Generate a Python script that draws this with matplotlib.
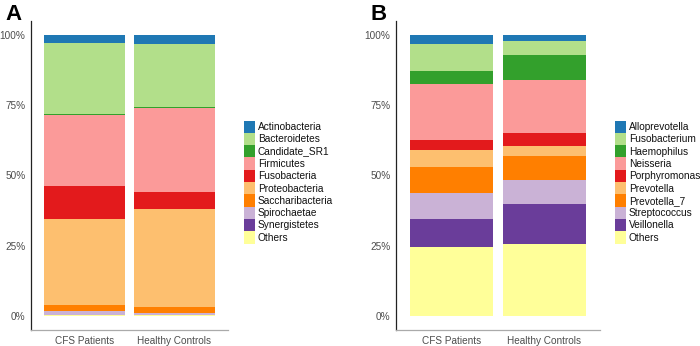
import matplotlib
matplotlib.use("Agg")
import matplotlib.pyplot as plt
from matplotlib.patches import Patch
import numpy as np

plt.rcParams['font.family'] = ['Liberation Sans', 'DejaVu Sans']

groups = ["CFS Patients", "Healthy Controls"]

# Panel A: phyla (percent), legend order top -> bottom of stack
phyla = ["Actinobacteria", "Bacteroidetes", "Candidate_SR1", "Firmicutes",
         "Fusobacteria", "Proteobacteria", "Saccharibacteria", "Spirochaetae",
         "Synergistetes", "Others"]
phyla_cfs = [3.0, 25.3, 0.3, 25.2, 11.6, 30.7, 2.2, 1.2, 0.1, 0.4]
phyla_hc = [3.2, 22.5, 0.3, 29.9, 6.2, 34.8, 1.9, 0.8, 0.1, 0.3]

# Panel B: genera (percent)
genera = ["Alloprevotella", "Fusobacterium", "Haemophilus", "Neisseria",
          "Porphyromonas", "Prevotella", "Prevotella_7", "Streptococcus",
          "Veillonella", "Others"]
genera_cfs = [3.3, 9.5, 4.7, 19.9, 3.5, 6.3, 9.1, 9.3, 10.0, 24.4]
genera_hc = [2.4, 5.0, 8.9, 18.7, 4.7, 3.6, 8.3, 8.7, 14.1, 25.6]

colors = ["#1F78B4", "#B2DF8A", "#33A02C", "#FB9A99", "#E31A1C",
          "#FDBF6F", "#FF7F00", "#CAB2D6", "#6A3D9A", "#FFFF99"]

W, H = 700, 346
fig = plt.figure(figsize=(W / 100, H / 100), dpi=100)

def px_ax(left, right, top, bottom):
    return fig.add_axes([left / W, 1 - bottom / H, (right - left) / W, (bottom - top) / H])

def draw(ax, names, vals_a, vals_b, legend_x, label, label_x):
    data = np.array([vals_a, vals_b], dtype=float)
    data = data / data.sum(axis=1, keepdims=True)
    x = np.arange(len(groups))
    bottom = np.zeros(len(groups))
    # stack from bottom: last name first
    for i in range(len(names) - 1, -1, -1):
        ax.bar(x, data[:, i], bottom=bottom, width=0.9, color=colors[i],
               edgecolor='none', linewidth=0)
        bottom += data[:, i]
    ax.set_xlim(-0.6, 1.6)
    ax.set_ylim(-0.05, 1.05)
    ax.set_yticks([0, 0.25, 0.5, 0.75, 1.0])
    ax.set_yticklabels(["0%", "25%", "50%", "75%", "100%"])
    ax.set_xticks(x)
    ax.set_xticklabels(groups)
    ax.tick_params(axis='both', length=0, labelsize=7.2, labelcolor='#4D4D4D')
    ax.tick_params(axis='y', pad=4)
    ax.tick_params(axis='x', pad=4.5)
    for s in ['top', 'right']:
        ax.spines[s].set_visible(False)
    ax.spines['left'].set_color('#222222')
    ax.spines['left'].set_linewidth(0.9)
    ax.spines['bottom'].set_color('#AAAAAA')
    ax.spines['bottom'].set_linewidth(0.9)
    handles = [Patch(facecolor=colors[i], edgecolor='none', label=names[i])
               for i in range(len(names))]
    fig.legend(handles=handles, loc='upper left',
               bbox_to_anchor=(legend_x / W, 1 - 120.5 / H),
               bbox_transform=fig.transFigure, frameon=False,
               fontsize=7.3, handlelength=1.1, handleheight=1.49,
               labelspacing=0.0, handletextpad=0.25, borderpad=0,
               borderaxespad=0, labelcolor='#111111')
    fig.text(label_x / W, 1 - 14 / H, label, fontsize=16, fontweight='bold',
             ha='left', va='center', color='black')

axA = px_ax(31, 228, 20.5, 330)
draw(axA, phyla, phyla_cfs, phyla_hc, 244, "A", 5)

axB = px_ax(396, 600, 20.5, 330)
draw(axB, genera, genera_cfs, genera_hc, 615, "B", 371)

fig.savefig("out.png", dpi=100)
